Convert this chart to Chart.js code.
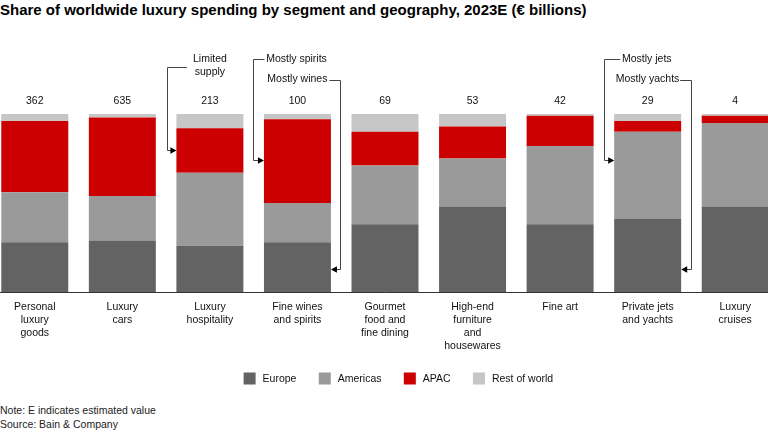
<!DOCTYPE html>
<html>
<head>
<meta charset="utf-8">
<script src="https://cdn.jsdelivr.net/npm/chart.js@4.4.0/dist/chart.umd.min.js"></script>
<style>
  html, body { margin:0; padding:0; width:768px; height:432px; overflow:hidden; background:#fff; }
  body { position:relative; font-family:'Liberation Sans', Arial, sans-serif; color:#111; }
  #title { position:absolute; left:0; top:2px; font-size:15px; line-height:15px; font-weight:bold; white-space:nowrap; color:#000; }
  #notes { position:absolute; left:0; top:404px; font-size:10.5px; line-height:13.6px; color:#222; white-space:nowrap; }
  #wrap { position:absolute; left:-9.3px; top:0; width:788px; height:432px; }
</style>
</head>
<body>
<div id="title">Share of worldwide luxury spending by segment and geography, 2023E (€ billions)</div>
<div id="notes">Note: E indicates estimated value<br>Source: Bain &amp; Company</div>
<div id="wrap"><canvas id="c"></canvas></div>
<script>
// ---- data ----
const categories = [
  ["Personal","luxury","goods"],
  ["Luxury","cars"],
  ["Luxury","hospitality"],
  ["Fine wines","and spirits"],
  ["Gourmet","food and","fine dining"],
  ["High-end","furniture","and","housewares"],
  ["Fine art"],
  ["Private jets","and yachts"],
  ["Luxury","cruises"]
];
const totals   = [362, 635, 213, 100, 69, 53, 42, 29, 4];
const europe   = [28, 29, 26, 28, 38, 48, 38, 41, 48];
const americas = [28, 25, 41, 22, 33, 27, 44, 49, 47];
const apac     = [40, 44, 25, 47, 19, 18, 17, 6, 4];
const restOfWorld = [4, 2, 8, 3, 10, 7, 1, 4, 1];
const seriesNames = ["Europe", "Americas", "APAC", "Rest of world"];

// ---- styles ----
const FONT = "'Liberation Sans', Arial, sans-serif";
const colors = ["#636363", "#9a9a9a", "#cc0000", "#c6c6c6"];
const CANVAS_LEFT = -9.3;

// annotation callouts (indices refer to categories; arrowValue on % axis)
const callouts = [
  { bar: 2, side: "left",  lines: ["Limited","supply"], textY: [59, 72.3], align: "center", lineY: 67, arrowValue: 80, textOff: 0, lineStart: 10.5 },
  { bar: 3, side: "left",  lines: ["Mostly spirits"], textY: [59], align: "left", lineY: 59.3, arrowValue: 74, textOff: 2.2, lineStart: 0.5 },
  { bar: 3, side: "right", lines: ["Mostly wines"], textY: [79.5], align: "right", lineY: 80, arrowValue: 13, textOff: 3.5, lineStart: 1.5 },
  { bar: 7, side: "left",  lines: ["Mostly jets"], textY: [59], align: "left", lineY: 59.3, arrowValue: 74, textOff: 7.8, lineStart: 6 },
  { bar: 7, side: "right", lines: ["Mostly yachts"], textY: [79.5], align: "right", lineY: 80, arrowValue: 13, textOff: 1.8, lineStart: 1 }
];

const overlay = {
  id: "overlay",
  afterDatasetsDraw(chart) {
    const ctx = chart.ctx;
    const meta = chart.getDatasetMeta(0);
    const y = chart.scales.y;
    ctx.save();
    // totals above bars
    ctx.font = "10.5px " + FONT;
    ctx.fillStyle = "#111";
    ctx.textAlign = "center";
    ctx.textBaseline = "middle";
    meta.data.forEach((b, i) => {
      ctx.fillText(String(totals[i]), b.x, y.getPixelForValue(100) - 12.5);
    });
    // callouts
    callouts.forEach(c => {
      const b = chart.getDatasetMeta(0).data[c.bar];
      const left = b.x - b.width / 2, right = b.x + b.width / 2;
      const ay = y.getPixelForValue(c.arrowValue);
      ctx.fillStyle = "#111";
      ctx.textBaseline = "middle";
      let sx, vx, tipX, dir;
      if (c.align === "center") {
        ctx.textAlign = "center";
        c.lines.forEach((t, k) => ctx.fillText(t, b.x, c.textY[k]));
        sx = left + c.lineStart; vx = left - 9.3; tipX = left; dir = 1;
      } else if (c.align === "left") {
        ctx.textAlign = "left";
        ctx.fillText(c.lines[0], left + c.textOff, c.textY[0]);
        sx = left + c.lineStart; vx = left - 10.5; tipX = left; dir = 1;
      } else {
        ctx.textAlign = "right";
        ctx.fillText(c.lines[0], right - c.textOff, c.textY[0]);
        sx = right - c.lineStart; vx = right + 9.5; tipX = right; dir = -1;
      }
      ctx.strokeStyle = "#444";
      ctx.lineWidth = 1;
      ctx.beginPath();
      ctx.moveTo(sx, Math.round(c.lineY) + 0.5);
      ctx.lineTo(Math.round(vx) + 0.5, Math.round(c.lineY) + 0.5);
      ctx.lineTo(Math.round(vx) + 0.5, Math.round(ay) + 0.5);
      ctx.lineTo(tipX - dir * 5, Math.round(ay) + 0.5);
      ctx.stroke();
      ctx.fillStyle = "#000";
      ctx.beginPath();
      ctx.moveTo(tipX, Math.round(ay) + 0.5);
      ctx.lineTo(tipX - dir * 6, Math.round(ay) + 0.5 - 3.2);
      ctx.lineTo(tipX - dir * 6, Math.round(ay) + 0.5 + 3.2);
      ctx.closePath();
      ctx.fill();
    });
    // legend
    ctx.translate(-CANVAS_LEFT, 0);
    ctx.font = "10.5px " + FONT;
    ctx.textAlign = "left";
    ctx.textBaseline = "middle";
    let lx = 243.3;
    const ly = 372.5;
    chart.data.datasets.forEach(ds => {
      ctx.fillStyle = ds.backgroundColor;
      ctx.fillRect(lx, ly, 12, 12);
      ctx.fillStyle = "#111";
      ctx.fillText(ds.label, lx + 19, ly + 6.5);
      lx += 19 + ctx.measureText(ds.label).width + 22.3;
    });
    ctx.restore();
  }
};

const seriesData = [europe, americas, apac, restOfWorld];
new Chart(document.getElementById("c"), {
  type: "bar",
  data: {
    labels: categories,
    datasets: seriesNames.map((n, i) => ({
      label: n,
      data: seriesData[i],
      backgroundColor: colors[i],
      borderWidth: 0,
      categoryPercentage: 1,
      barPercentage: 0.765
    }))
  },
  options: {
    responsive: true,
    maintainAspectRatio: false,
    animation: false,
    layout: { padding: { top: 114, left: 0, right: 0, bottom: 0 } },
    plugins: { legend: { display: false }, tooltip: { enabled: false }, title: { display: false } },
    scales: {
      x: {
        stacked: true,
        grid: { display: false, drawTicks: false },
        border: { display: true, color: "#333", width: 1 },
        ticks: { color: "#111", font: { family: FONT, size: 10.5, lineHeight: 1.24 }, padding: 8.5, maxRotation: 0, autoSkip: false },
        afterFit(s) { s.height = 140; }
      },
      y: { stacked: true, display: false, min: 0, max: 100 }
    }
  },
  plugins: [overlay]
});
</script>
</body>
</html>
